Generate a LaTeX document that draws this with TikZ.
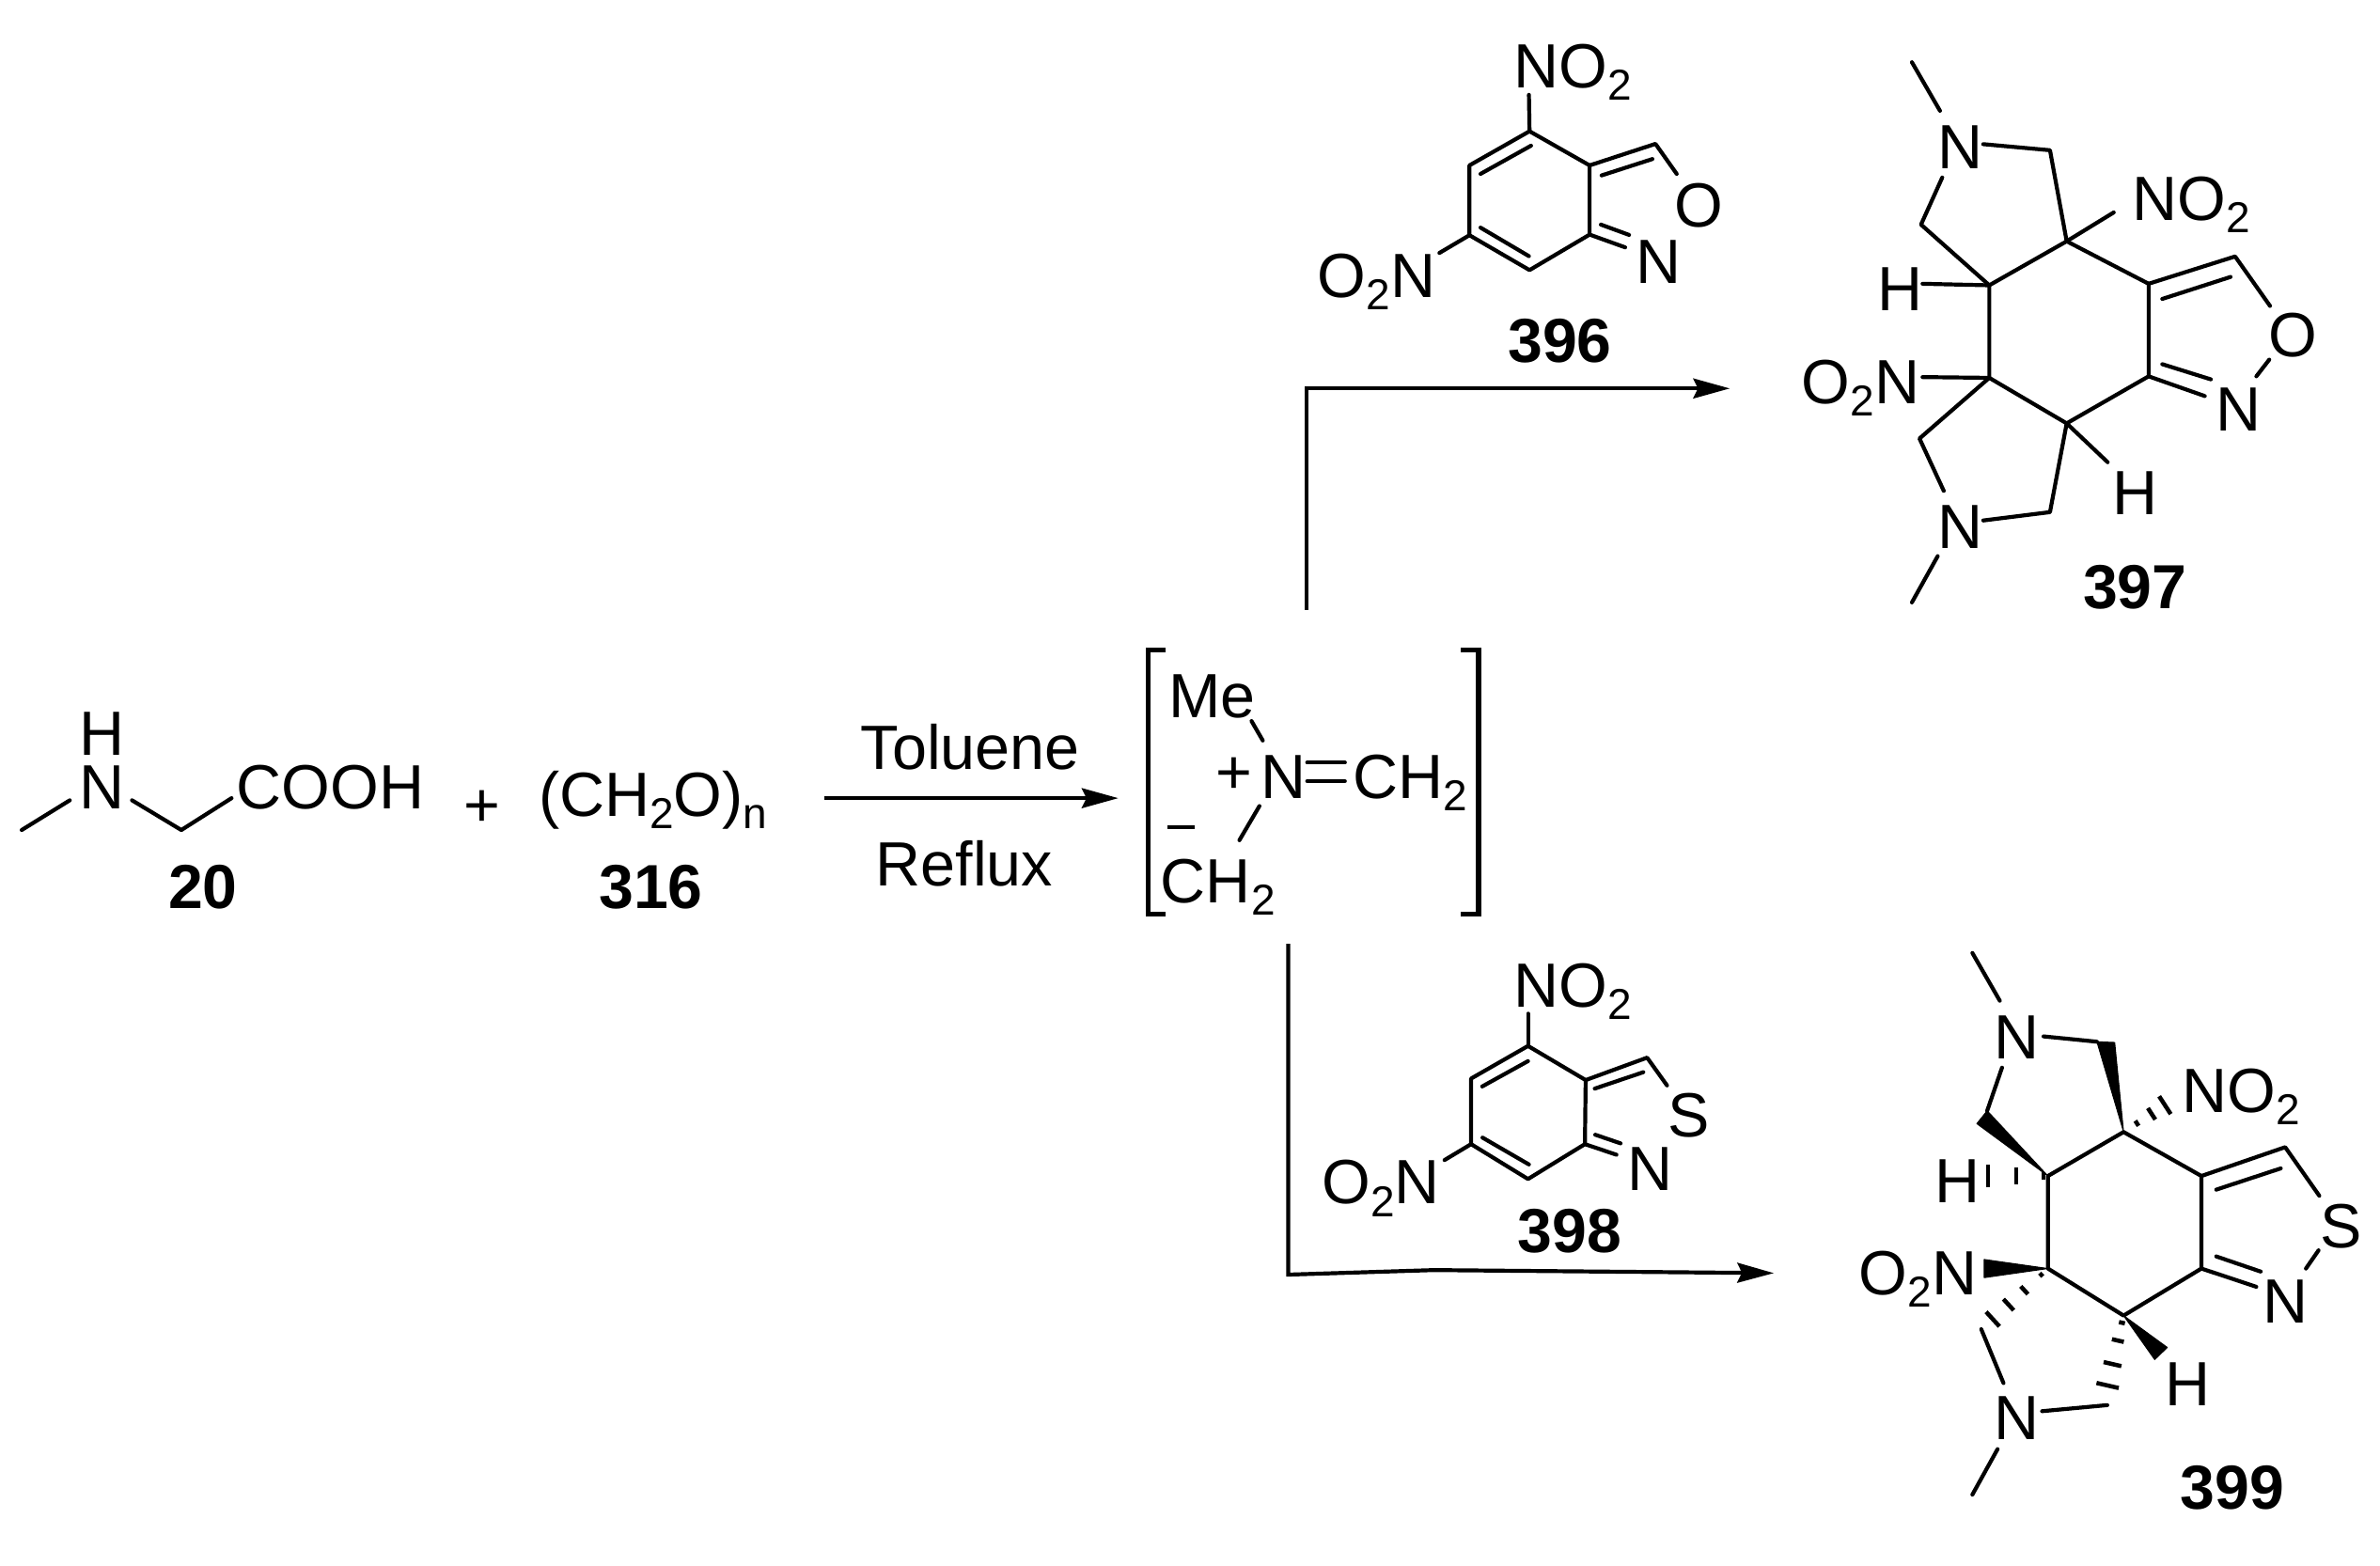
\documentclass[tikz,border=0pt]{standalone}
\usepackage{fontspec}
\setmainfont{Liberation Sans}
\usetikzlibrary{arrows.meta,calc}
\newcommand{\subs}[1]{\raisebox{-0.2em}{\fontsize{28.5}{28.5}\selectfont #1}}
\tikzset{
  bond/.style={line width=2.6pt,line cap=round,line join=round},
  rxn/.style={line width=2.6pt,line join=miter},
  brk/.style={line width=3.2pt,line join=miter},
  hashmark/.style={line width=2.8pt},
  head/.style={-{Stealth[length=24pt,width=13pt,inset=3pt]}},
  txt/.style={inner sep=0pt,outer sep=0pt,xshift=2pt,yshift=-1pt,font=\fontsize{41.2}{41.2}\selectfont},
  lab/.style={inner sep=0pt,outer sep=0pt,xshift=2pt,yshift=-1pt,font=\fontsize{41}{41}\selectfont\bfseries,anchor=base},
  atomlbl/.style={txt,anchor=base},
  wedge/.style={fill=black,draw=black,line width=.6pt,line join=round}
}
\begin{document}
\begin{tikzpicture}[x=1pt,y=-1pt]
\useasboundingbox (0,0) rectangle (1568.5,1031.5);
% ---------- 20 and 316
\node[atomlbl] (n20N) at (65,532) {N};
\node[atomlbl] (n20H) at (65,496.5) {H};
\node[txt,anchor=base west] (n20acid) at (154,532) {COOH};
\coordinate (m20a) at (14.3,547); \coordinate (m20b) at (46,527.4);
\coordinate (c20a) at (87,527.4); \coordinate (c20b) at (119.5,547); \coordinate (c20c) at (152.6,526);
\draw[bond] (m20a) -- (m20b);
\draw[bond] (c20a) -- (c20b) -- (c20c);
\node[lab] (l20) at (131.8,598) {20};
\node[atomlbl] (plus) at (316,544) {+};
\node[txt,anchor=base west] (form) at (353,537) {(CH\subs{2}O)\subs{n}};
\node[lab] (l316) at (427,598) {316};
% ---------- reaction arrow
\coordinate (r1) at (543,526); \coordinate (r2) at (737,526);
\draw[rxn,head] (r1) -- (r2);
\node[atomlbl] (tol) at (637.5,506) {Toluene};
\node[atomlbl] (ref) at (633.5,583) {Reflux};
% ---------- ylide in brackets
\coordinate (bl1) at (768.3,428.5); \coordinate (bl2) at (756.7,428.5); \coordinate (bl3) at (756.7,602.5); \coordinate (bl4) at (768.3,602.5);
\coordinate (br1) at (962.6,428.5); \coordinate (br2) at (974.4,428.5); \coordinate (br3) at (974.4,602.5); \coordinate (br4) at (962.6,602.5);
\draw[brk] (bl1) -- (bl2) -- (bl3) -- (bl4);
\draw[brk] (br1) -- (br2) -- (br3) -- (br4);
\node[txt,anchor=base west] (me) at (768,472.2) {Me};
\node[atomlbl] (yN) at (843.8,525.3) {N};
\node[txt,anchor=base west] (yC) at (889.5,525.3) {CH\subs{2}};
\node[txt,anchor=base west] (yC2) at (763,593.7) {CH\subs{2}};
\node[atomlbl] (yp) at (811,522) {+};
\coordinate (ym1) at (769.5,545.3); \coordinate (ym2) at (787.4,545.3);
\draw[line width=2.6pt] (ym1) -- (ym2);
\coordinate (yb1) at (824.8,475.2); \coordinate (yb2) at (832.2,488);
\coordinate (yb3) at (830,531.2); \coordinate (yb4) at (816.8,553.7);
\coordinate (yd1) at (861.5,502.6); \coordinate (yd2) at (886.3,502.6);
\coordinate (yd3) at (861.5,514.8); \coordinate (yd4) at (886.3,514.8);
\draw[bond] (yb1) -- (yb2); \draw[bond] (yb3) -- (yb4);
\draw[bond] (yd1) -- (yd2); \draw[bond] (yd3) -- (yd4);
% ---------- branch arrows
\coordinate (u1) at (861,402); \coordinate (u2) at (861,256); \coordinate (u3) at (1140,256);
\draw[rxn,head] (u1) -- (u2) -- (u3);
\coordinate (d1) at (849,622); \coordinate (d2) at (849,840); \coordinate (d3) at (945,837); \coordinate (d4) at (1169,839);
\draw[rxn,head] (d1) -- (d2) -- (d3) -- (d4);
% ---------- 396
\coordinate (e1) at (1008,86.5); \coordinate (e2) at (1047.6,109); \coordinate (e3) at (1047.6,154.6);
\coordinate (e4) at (1008,178); \coordinate (e5) at (968.4,155); \coordinate (e6) at (968.4,109);
\draw[bond] (e1) -- (e2) -- (e3) -- (e4) -- (e5) -- (e6) -- cycle;
\coordinate (ei1) at (1009,96); \coordinate (ei2) at (975.7,114.6); \coordinate (ei3) at (975.7,150); \coordinate (ei4) at (1007.6,168.8);
\draw[bond] (ei1) -- (ei2); \draw[bond] (ei3) -- (ei4);
\coordinate (en1) at (1007.6,62.5); \coordinate (en2) at (948.6,166.7);
\draw[bond] (e1) -- (en1); \draw[bond] (e5) -- (en2);
\coordinate (ef1) at (1091,94.8); \coordinate (ef2) at (1105,114.6); \coordinate (ef3) at (1071,163);
\coordinate (efi1) at (1055.5,115.6); \coordinate (efi2) at (1089,104.8); \coordinate (efi3) at (1055,148); \coordinate (efi4) at (1073.6,154.8);
\draw[bond] (e2) -- (ef1) -- (ef2); \draw[bond] (efi1) -- (efi2);
\draw[bond] (e3) -- (ef3); \draw[bond] (efi3) -- (efi4);
\node[txt,anchor=base west] (eno) at (995.5,56.7) {NO\subs{2}};
\node[txt,anchor=base east] (eon) at (944,195) {O\subs{2}N};
\node[atomlbl] (eO) at (1117.4,148.3) {O};
\node[atomlbl] (eN) at (1091,185.8) {N};
\node[lab] (l396) at (1026,237.5) {396};
% ---------- 398
\coordinate (f1) at (1007,689.3); \coordinate (f2) at (1045,711.8); \coordinate (f3) at (1044.5,754);
\coordinate (f4) at (1007,777); \coordinate (f5) at (969.5,754); \coordinate (f6) at (969.5,710.8);
\draw[bond] (f1) -- (f2) -- (f3) -- (f4) -- (f5) -- (f6) -- cycle;
\coordinate (fi1) at (1007,699.3); \coordinate (fi2) at (976.8,716); \coordinate (fi3) at (977,749.7); \coordinate (fi4) at (1007.6,767.4);
\draw[bond] (fi1) -- (fi2); \draw[bond] (fi3) -- (fi4);
\coordinate (fn1) at (1007,668); \coordinate (fn2) at (952,764.5);
\draw[bond] (f1) -- (fn1); \draw[bond] (f5) -- (fn2);
\coordinate (ff1) at (1085.5,697); \coordinate (ff2) at (1098.6,715.3); \coordinate (ff3) at (1065.3,761);
\coordinate (ffi1) at (1051,717.4); \coordinate (ffi2) at (1083,706.6); \coordinate (ffi3) at (1051.3,747.8); \coordinate (ffi4) at (1068,753.5);
\draw[bond] (f2) -- (ff1) -- (ff2); \draw[bond] (ffi1) -- (ffi2);
\draw[bond] (f3) -- (ff3); \draw[bond] (ffi3) -- (ffi4);
\node[txt,anchor=base west] (fno) at (995.5,662.8) {NO\subs{2}};
\node[txt,anchor=base east] (fon) at (947,792.4) {O\subs{2}N};
\node[atomlbl] (fS) at (1110.7,748) {S};
\node[atomlbl] (fN) at (1085.5,783.7) {N};
\node[lab] (l398) at (1032.6,824.7) {398};
% ---------- 397
\coordinate (a1) at (1311,188); \coordinate (a2) at (1362,159); \coordinate (a3) at (1416,187);
\coordinate (a4) at (1416,248); \coordinate (a5) at (1362,279); \coordinate (a6) at (1311,249);
\draw[bond] (a1) -- (a2) -- (a3) -- (a4) -- (a5) -- (a6) -- cycle;
\coordinate (a7) at (1351,99); \coordinate (a8) at (1307,95); \coordinate (a9) at (1280,117); \coordinate (a10) at (1266,148);
\draw[bond] (a2) -- (a7) -- (a8); \draw[bond] (a9) -- (a10) -- (a1);
\coordinate (a11) at (1278.5,73); \coordinate (a12) at (1260,41);
\draw[bond] (a11) -- (a12);
\coordinate (a13) at (1393,140); \coordinate (a14) at (1267,187); \coordinate (a15) at (1267,248.5);
\draw[bond] (a2) -- (a13); \draw[bond] (a1) -- (a14); \draw[bond] (a6) -- (a15);
\coordinate (a16) at (1265,289); \coordinate (a17) at (1281,323.5); \coordinate (a18) at (1307,343); \coordinate (a19) at (1351,337.5);
\draw[bond] (a6) -- (a16) -- (a17); \draw[bond] (a18) -- (a19) -- (a5);
\coordinate (a20) at (1277,366.5); \coordinate (a21) at (1260,397); \coordinate (a22) at (1389,304.6);
\draw[bond] (a20) -- (a21); \draw[bond] (a5) -- (a22);
\coordinate (a23) at (1473,169); \coordinate (a24) at (1496,201.6); \coordinate (a25) at (1425,197); \coordinate (a26) at (1470,182.5);
\draw[bond] (a3) -- (a23) -- (a24); \draw[bond] (a25) -- (a26);
\coordinate (a27) at (1495.5,237); \coordinate (a28) at (1487,248); \coordinate (a29) at (1453,261); \coordinate (a30) at (1425,240); \coordinate (a31) at (1457,250);
\draw[bond] (a27) -- (a28); \draw[bond] (a4) -- (a29); \draw[bond] (a30) -- (a31);
\node[atomlbl] (aN1) at (1290,110) {N};
\node[atomlbl] (aH1) at (1250,204) {H};
\node[txt,anchor=base west] (ano) at (1403.4,144) {NO\subs{2}};
\node[txt,anchor=base east] (aon) at (1263,265) {O\subs{2}N};
\node[atomlbl] (aN2) at (1290,360.6) {N};
\node[atomlbl] (aH2) at (1405,338) {H};
\node[atomlbl] (aO) at (1509,234) {O};
\node[atomlbl] (aN3) at (1473,283) {N};
\node[lab] (l397) at (1405,400) {397};
% ---------- 399
\begin{scope}[x=0.977pt,xshift=35.6pt]
\coordinate (b1) at (1345,775); \coordinate (b2) at (1396,746); \coordinate (b3) at (1448.5,775);
\coordinate (b4) at (1448.5,836); \coordinate (b5) at (1396,867); \coordinate (b6) at (1345,836);
\draw[bond] (b1) -- (b2) -- (b3) -- (b4) -- (b5) -- (b6) -- cycle;
\coordinate (b7) at (1342,683); \coordinate (b8) at (1378,686.5); \coordinate (b8r) at (1390,687);
\draw[bond] (b7) -- (b8);
\fill[wedge] (b2) -- (b8) -- (b8r) -- cycle;
\coordinate (b9) at (1312.5,659.5); \coordinate (b10) at (1294,628);
\draw[bond] (b9) -- (b10);
\coordinate (b11) at (1314,703.6); \coordinate (b12) at (1304,732); \coordinate (b12l) at (1297,740.5);
\draw[bond] (b11) -- (b12);
\fill[wedge] (b1) -- (b12) -- (b12l) -- cycle;
\coordinate (b13) at (1302,830); \coordinate (b13b) at (1302,842);
\fill[wedge] (b6) -- (b13) -- (b13b) -- cycle;
\coordinate (b14) at (1417,896); \coordinate (b14b) at (1425.5,888);
\fill[wedge] (b5) -- (b14) -- (b14b) -- cycle;
\coordinate (hh1) at (1303,775);
\foreach \t/\l in {.96/7.5,.51/5.5,.07/2.5}{\draw[hashmark] ($(b1)!\t!(hh1)!\l pt!90:(hh1)$) -- ($(b1)!\t!(hh1)!\l pt!-90:(hh1)$);}
\coordinate (hh2) at (1426,727);
\foreach \t/\l in {.3/2,.63/4.5,.93/7}{\draw[hashmark] ($(b2)!\t!(hh2)!\l pt!90:(hh2)$) -- ($(b2)!\t!(hh2)!\l pt!-90:(hh2)$);}
\coordinate (hh3) at (1307,870);
\foreach \t/\l in {.12/1.5,.42/3.5,.7/5,.98/6.5}{\draw[hashmark] ($(b6)!\t!(hh3)!\l pt!90:(hh3)$) -- ($(b6)!\t!(hh3)!\l pt!-90:(hh3)$);}
\coordinate (hh4) at (1385,914);
\foreach \t/\l in {.1/2,.35/4,.68/6,.98/7.5}{\draw[hashmark] ($(b5)!\t!(hh4)!\l pt!90:(hh4)$) -- ($(b5)!\t!(hh4)!\l pt!-90:(hh4)$);}
\coordinate (b15) at (1300,876); \coordinate (b16) at (1315,911.5); \coordinate (b17) at (1341,930); \coordinate (b18) at (1385,926);
\draw[bond] (b15) -- (b16); \draw[bond] (b17) -- (b18);
\coordinate (b19) at (1311,955); \coordinate (b20) at (1294,985);
\draw[bond] (b19) -- (b20);
\coordinate (b21) at (1505,756); \coordinate (b22) at (1528,788); \coordinate (b23) at (1458.5,784); \coordinate (b24) at (1502,770);
\draw[bond] (b3) -- (b21) -- (b22); \draw[bond] (b23) -- (b24);
\coordinate (b25) at (1527.5,824); \coordinate (b26) at (1519,836); \coordinate (b27) at (1485.5,848); \coordinate (b28) at (1458.5,828); \coordinate (b29) at (1488.5,838);
\draw[bond] (b25) -- (b26); \draw[bond] (b4) -- (b27); \draw[bond] (b28) -- (b29);
\node[atomlbl] (bN1) at (1322,697) {N};
\node[txt,anchor=base west] (bno) at (1433.5,732) {NO\subs{2}};
\node[atomlbl] (bH1) at (1282,791.6) {H};
\node[txt,anchor=base east] (bon) at (1295,852.4) {O\subs{2}N};
\node[atomlbl] (bN2) at (1322,947.8) {N};
\node[atomlbl] (bH2) at (1437,925.7) {H};
\node[atomlbl] (bS) at (1540.5,821.6) {S};
\node[atomlbl] (bN3) at (1503,871) {N};
\node[lab] (l399) at (1467.5,993.3) {399};
\end{scope}
\end{tikzpicture}
\end{document}
